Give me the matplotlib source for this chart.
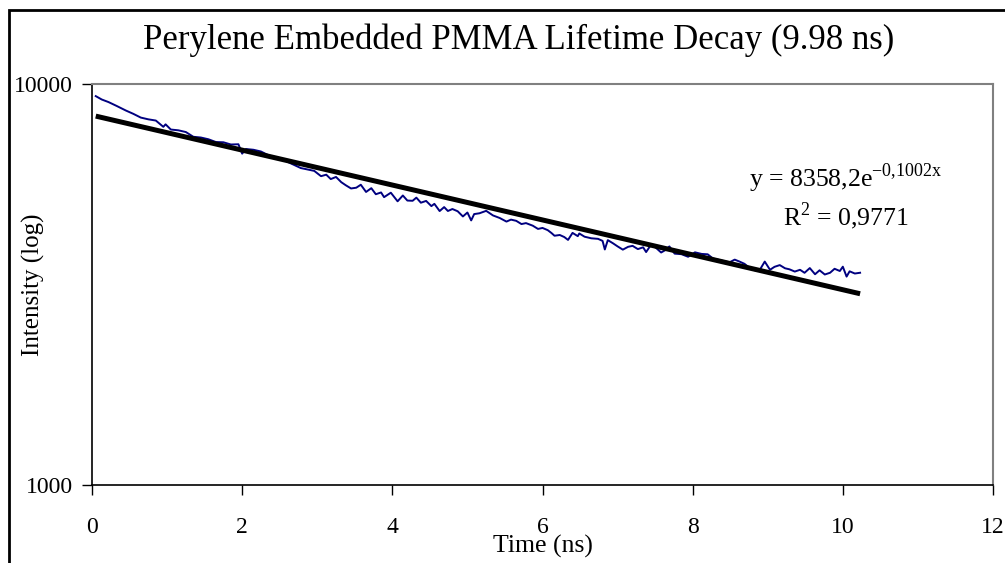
import numpy as np
import matplotlib
matplotlib.use("Agg")
import matplotlib.pyplot as plt
from matplotlib.patches import Rectangle

time_ns = [0.05, 0.13, 0.22, 0.33, 0.45, 0.55, 0.65, 0.75, 0.85, 0.95,
           0.98, 1.05, 1.15, 1.25, 1.35, 1.45, 1.55, 1.65, 1.75, 1.85,
           1.95, 2.00, 2.05, 2.15, 2.25, 2.35, 2.45, 2.55, 2.65, 2.78,
           2.96, 3.05, 3.12, 3.18, 3.25, 3.32, 3.38, 3.45, 3.52, 3.58,
           3.65, 3.72, 3.78, 3.85, 3.89, 3.98, 4.07, 4.14, 4.20, 4.27,
           4.32, 4.38, 4.45, 4.52, 4.56, 4.63, 4.69, 4.74, 4.80, 4.87,
           4.94, 5.00, 5.05, 5.09, 5.16, 5.25, 5.34, 5.43, 5.52, 5.58,
           5.65, 5.72, 5.78, 5.87, 5.94, 6.00, 6.07, 6.12, 6.16, 6.23,
           6.29, 6.34, 6.40, 6.47, 6.49, 6.56, 6.65, 6.74, 6.80, 6.83,
           6.87, 6.94, 7.00, 7.07, 7.14, 7.20, 7.27, 7.34, 7.38, 7.45,
           7.52, 7.58, 7.63, 7.69, 7.76, 7.85, 7.94, 8.03, 8.12, 8.20,
           8.27, 8.34, 8.43, 8.49, 8.56, 8.63, 8.69, 8.76, 8.83, 8.89,
           8.96, 9.03, 9.09, 9.16, 9.23, 9.29, 9.36, 9.43, 9.49, 9.56,
           9.63, 9.69, 9.76, 9.83, 9.89, 9.96, 10.00, 10.05, 10.09, 10.16,
           10.23]
intensity = [9328, 9148, 9014, 8813, 8589, 8426, 8246, 8164, 8107, 7820,
             7932, 7699, 7665, 7589, 7385, 7354, 7281, 7166, 7156, 7065,
             7075, 6704, 6884, 6855, 6787, 6642, 6539, 6473, 6336, 6172,
             6072, 5890, 5941, 5793, 5864, 5690, 5591, 5489, 5513, 5608,
             5380, 5498, 5310, 5365, 5222, 5357, 5099, 5272, 5121, 5114,
             5207, 5058, 5110, 4960, 5025, 4821, 4932, 4823, 4878, 4816,
             4674, 4781, 4569, 4738, 4760, 4827, 4702, 4633, 4538, 4590,
             4558, 4474, 4499, 4433, 4351, 4376, 4320, 4249, 4184, 4202,
             4153, 4085, 4253, 4174, 4239, 4161, 4123, 4110, 4062, 3867,
             4080, 4005, 3936, 3863, 3926, 3948, 3875, 3915, 3810, 3985,
             3890, 3800, 3847, 3935, 3775, 3764, 3708, 3804, 3769, 3761,
             3671, 3645, 3613, 3591, 3648, 3603, 3561, 3475, 3431, 3430,
             3607, 3441, 3500, 3535, 3471, 3450, 3406, 3441, 3382, 3475,
             3354, 3431, 3349, 3383, 3461, 3417, 3503, 3309, 3411, 3368,
             3383]

# exponential trendline as printed on the chart
fit_a = 8358.2
fit_k = 0.1002
x_ticks = [0, 2, 4, 6, 8, 10, 12]
y_ticks = [1000, 10000]

plt.rcParams['font.family'] = ['Liberation Serif', 'DejaVu Serif']
plt.rcParams['mathtext.fontset'] = 'custom'
plt.rcParams['mathtext.rm'] = 'Liberation Serif'

fig = plt.figure(figsize=(10.05, 5.63), dpi=100)
ax = fig.add_axes([92 / 1005, 1 - 485 / 563, 901 / 1005, 401 / 563])

t = np.array(time_ns)
ax.plot(t, intensity, color='#000080', lw=1.4)
ax.plot(t, fit_a * np.exp(-fit_k * t), color='black', lw=3.6,
        solid_capstyle='butt')

ax.set_yscale('log')
ax.set_xlim(0, 12)
ax.set_ylim(1000, 10000)
ax.set_xticks(x_ticks)
ax.set_xticklabels([str(v) for v in x_ticks])
ax.set_yticks(y_ticks)
ax.set_yticklabels([str(v) for v in y_ticks])
ax.yaxis.set_minor_locator(matplotlib.ticker.NullLocator())
ax.tick_params(axis='both', direction='out', length=7, width=1,
               labelsize=17)
ax.tick_params(axis='x', pad=16)
ax.tick_params(axis='y', pad=7)

for side in ('top', 'right'):
    ax.spines[side].set_color('#808080')
    ax.spines[side].set_linewidth(1.5)
for side in ('left', 'bottom'):
    ax.spines[side].set_color('black')
    ax.spines[side].set_linewidth(1.2)

ax.set_xlabel('Time (ns)', fontsize=18.5, va='center')
ax.xaxis.set_label_coords(0.5, (485 - 546) / 401)
ax.set_ylabel('Intensity (log)', fontsize=18, va='center')
ax.yaxis.set_label_coords((33 - 92) / 901, 0.5)

fig.text(519 / 1005, 1 - 40 / 563,
         'Perylene Embedded PMMA Lifetime Decay (9.98 ns)',
         ha='center', va='center', fontsize=25)

ax.text(846 / 1005, 1 - 178 / 563,
        r'y = 8358,2e$^{\mathrm{-0{,}1002x}}$',
        transform=fig.transFigure, ha='center', va='center', fontsize=18.5)
ax.text(846 / 1005, 1 - 216 / 563, r'R$^{\mathrm{2}}$ = 0,9771',
        transform=fig.transFigure, ha='center', va='center', fontsize=18.5)

fig.patches.append(Rectangle((9 / 1005, -0.05), 1.05, 1 - 10 / 563 + 0.05,
                             transform=fig.transFigure, fill=False,
                             edgecolor='black', lw=2))

fig.savefig('out.png', dpi=100)
